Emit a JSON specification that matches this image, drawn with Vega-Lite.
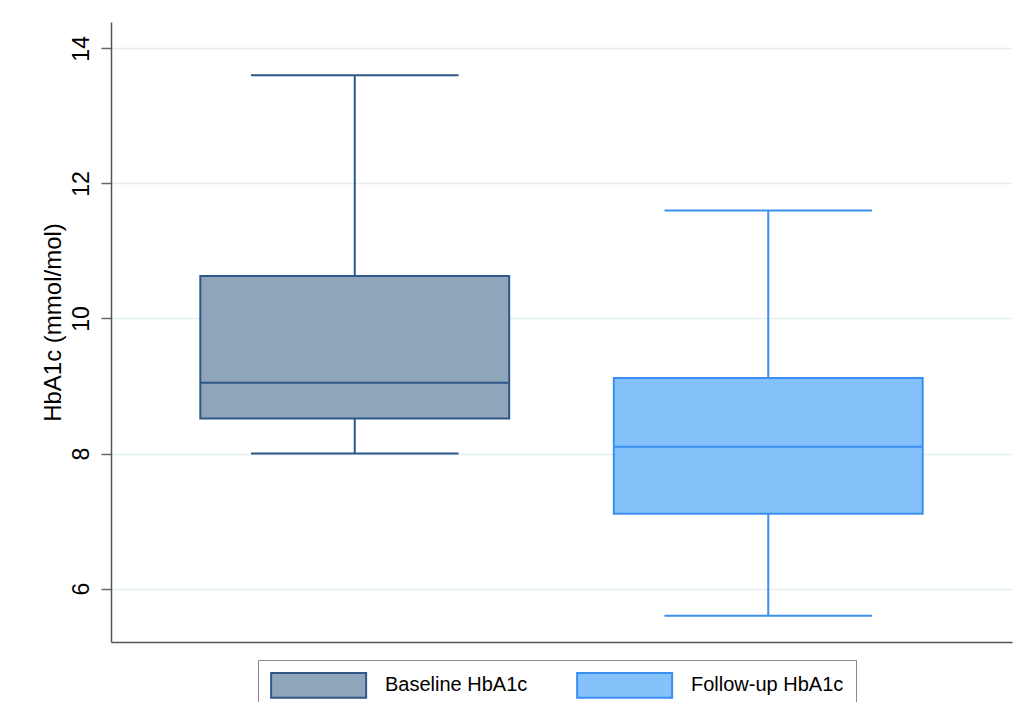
{
  "$schema": "https://vega.github.io/schema/vega-lite/v6.json",
  "width": 901,
  "height": 620,
  "autosize": "none",
  "padding": {"left": 111, "top": 22, "right": 11, "bottom": 60},
  "background": "white",
  "config": {
    "view": {"stroke": null},
    "font": "Liberation Sans",
    "legend": {
      "orient": "none",
      "legendX": 147,
      "legendY": 638,
      "direction": "horizontal",
      "strokeColor": "#888888",
      "fillColor": "white",
      "padding": 12,
      "symbolType": "M-1,-1.04H7V1.04H-1Z",
      "symbolSize": 564,
      "symbolStrokeWidth": 2,
      "labelFontSize": 20,
      "labelColor": "#000000",
      "labelOffset": 89,
      "columnPadding": 45,
      "labelLimit": 300
    }
  },
  "data": {
    "values": [
      {"group": "Baseline HbA1c", "min": 8.0, "q1": 8.52, "median": 9.05, "q3": 10.63, "max": 13.6},
      {"group": "Follow-up HbA1c", "min": 5.6, "q1": 7.11, "median": 8.1, "q3": 9.12, "max": 11.6}
    ]
  },
  "encoding": {
    "x": {
      "field": "group",
      "type": "nominal",
      "sort": ["Baseline HbA1c", "Follow-up HbA1c"],
      "scale": {"paddingInner": 0.253, "paddingOuter": 0.216},
      "axis": {"labels": false, "ticks": false, "title": null, "grid": false, "domainColor": "#555555", "domainWidth": 1.5}
    }
  },
  "layer": [
    {
      "mark": {"type": "rule", "strokeWidth": 2},
      "encoding": {
        "y": {
          "field": "max",
          "type": "quantitative",
          "scale": {"domain": [5.21, 14.39], "nice": false, "zero": false},
          "axis": {
            "values": [6, 8, 10, 12, 14],
            "format": "d",
            "title": "HbA1c (mmol/mol)",
            "titleFontSize": 24,
            "titleFontWeight": "normal",
            "titleColor": "#000000",
            "titlePadding": 5,
            "titleY": 300,
            "labelAngle": 270,
            "labelFontSize": 23,
            "labelColor": "#000000",
            "labelPadding": 8,
            "tickSize": 10,
            "tickColor": "#666666",
            "tickWidth": 1.5,
            "domainColor": "#555555",
            "domainWidth": 1.5,
            "grid": true,
            "gridColor": "#e4eef2",
            "gridWidth": 1.5
          }
        },
        "y2": {"field": "min"},
        "stroke": {
          "field": "group",
          "type": "nominal",
          "scale": {"domain": ["Baseline HbA1c", "Follow-up HbA1c"], "range": ["#2f578a", "#3b8fef"]},
          "legend": {"title": null}
        }
      }
    },
    {
      "mark": {"type": "bar", "strokeWidth": 2},
      "encoding": {
        "y": {"field": "q1", "type": "quantitative"},
        "y2": {"field": "q3"},
        "fill": {
          "field": "group",
          "type": "nominal",
          "scale": {"domain": ["Baseline HbA1c", "Follow-up HbA1c"], "range": ["#8fa5b9", "#85c1fb"]},
          "legend": {"title": null}
        },
        "stroke": {
          "field": "group",
          "type": "nominal",
          "legend": {"title": null}
        }
      }
    },
    {
      "mark": {"type": "rule", "strokeWidth": 2},
      "encoding": {
        "x": {"field": "group", "type": "nominal", "bandPosition": 0},
        "x2": {"field": "group", "bandPosition": 1},
        "y": {"field": "median", "type": "quantitative"},
        "stroke": {"field": "group", "type": "nominal", "legend": {"title": null}}
      }
    },
    {
      "mark": {"type": "rule", "strokeWidth": 2},
      "encoding": {
        "x": {"field": "group", "type": "nominal", "bandPosition": 0.164},
        "x2": {"field": "group", "bandPosition": 0.836},
        "y": {"field": "max", "type": "quantitative"},
        "stroke": {"field": "group", "type": "nominal", "legend": {"title": null}}
      }
    },
    {
      "mark": {"type": "rule", "strokeWidth": 2},
      "encoding": {
        "x": {"field": "group", "type": "nominal", "bandPosition": 0.164},
        "x2": {"field": "group", "bandPosition": 0.836},
        "y": {"field": "min", "type": "quantitative"},
        "stroke": {"field": "group", "type": "nominal", "legend": {"title": null}}
      }
    }
  ]
}
